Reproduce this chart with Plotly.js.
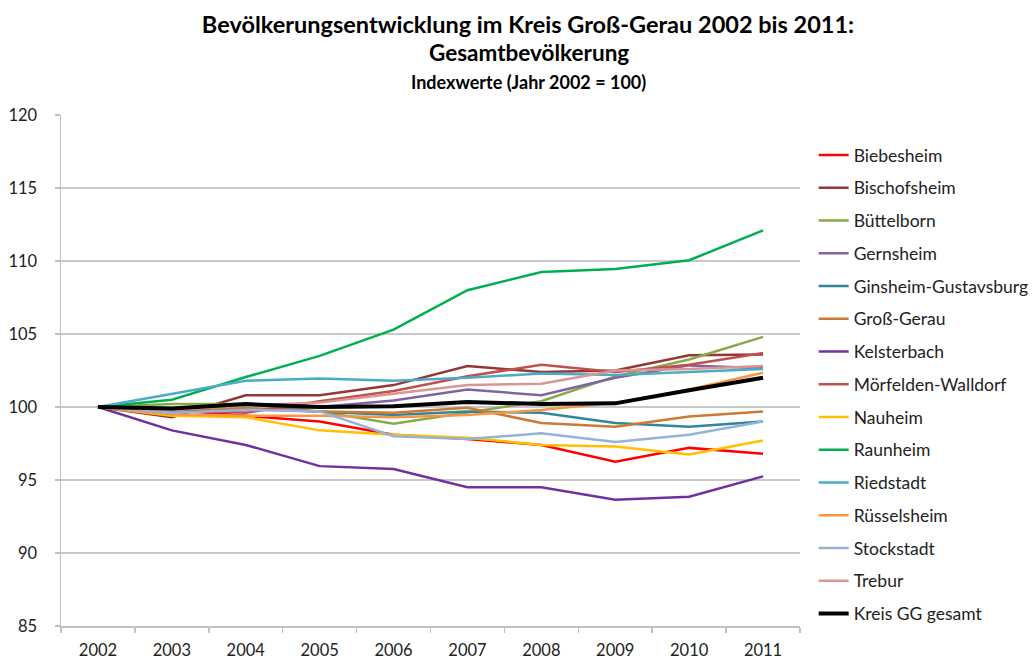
<!DOCTYPE html>
<html>
<head>
<meta charset="utf-8">
<script src="https://cdn.plot.ly/plotly-3.0.1.min.js"></script>
<style>html,body{margin:0;padding:0;background:#fff;}#chart{width:1036px;height:660px;}</style>
</head>
<body>
<div id="chart"></div>
<script>
var years = ['2002','2003','2004','2005','2006','2007','2008','2009','2010','2011'];

var biebesheim    = [100, 99.8, 99.4, 99.0, 98.1, 97.8, 97.4, 96.25, 97.2, 96.8];
var bischofsheim  = [100, 99.3, 100.8, 100.8, 101.5, 102.8, 102.4, 102.5, 103.55, 103.6];
var buettelborn   = [100, 100.2, 100.2, 99.7, 98.85, 99.6, 100.4, 102.1, 103.25, 104.8];
var gernsheim     = [100, 99.7, 99.8, 100.0, 100.45, 101.2, 100.8, 102.0, 102.85, 102.65];
var ginsheim      = [100, 99.8, 99.9, 99.7, 99.45, 99.7, 99.6, 98.9, 98.65, 99.0];
var grossgerau    = [100, 99.9, 99.9, 99.7, 99.6, 99.95, 98.9, 98.65, 99.35, 99.7];
var kelsterbach   = [100, 98.4, 97.4, 95.95, 95.75, 94.5, 94.5, 93.65, 93.85, 95.25];
var moerfelden    = [100, 99.8, 99.6, 100.4, 101.1, 102.1, 102.9, 102.4, 102.9, 103.7];
var nauheim       = [100, 99.4, 99.3, 98.4, 98.1, 97.9, 97.4, 97.3, 96.75, 97.7];
var raunheim      = [100, 100.5, 102.05, 103.5, 105.3, 108.0, 109.25, 109.45, 110.05, 112.1];
var riedstadt     = [100, 100.9, 101.8, 101.95, 101.8, 102.0, 102.3, 102.2, 102.4, 102.6];
var ruesselsheim  = [100, 99.5, 99.4, 99.4, 99.3, 99.45, 99.8, 100.3, 101.2, 102.35];
var stockstadt    = [100, 99.6, 99.8, 99.7, 98.0, 97.8, 98.2, 97.6, 98.1, 99.0];
var trebur        = [100, 99.8, 100.1, 100.3, 100.9, 101.5, 101.6, 102.5, 102.6, 102.8];
var kreis         = [100, 99.9, 100.2, 100.0, 100.05, 100.35, 100.2, 100.25, 101.15, 102.0];

var seriesNames = ['Biebesheim','Bischofsheim','Büttelborn','Gernsheim','Ginsheim-Gustavsburg','Groß-Gerau','Kelsterbach','Mörfelden-Walldorf','Nauheim','Raunheim','Riedstadt','Rüsselsheim','Stockstadt','Trebur','Kreis GG gesamt'];
var seriesValues = [biebesheim, bischofsheim, buettelborn, gernsheim, ginsheim, grossgerau, kelsterbach, moerfelden, nauheim, raunheim, riedstadt, ruesselsheim, stockstadt, trebur, kreis];
var seriesColors = ['#FF0000','#953735','#8AA848','#8064A2','#31859C','#CC7A36','#7030A0','#C0504D','#FFC000','#00B050','#4BACC6','#F79646','#95B3D7','#D99694','#000000'];
var yTicks = [85, 90, 95, 100, 105, 110, 115, 120];

var traces = seriesNames.map(function(n, i){
  return {
    x: years, y: seriesValues[i], name: n, type: 'scatter', mode: 'lines',
    legendgroup: 'g' + i,
    line: {color: seriesColors[i], width: (i === 14 ? 4 : 2.5)}
  };
});

var font = 'Lato, "Noto Sans", sans-serif';
var plotTop = 115, plotH = 511;
function py(pix){ return 1 + (plotTop - pix) / plotH; }

var layout = {
  width: 1036, height: 660,
  margin: {l: 61, r: 236, t: 115, b: 34, autoexpand: false},
  paper_bgcolor: '#fff', plot_bgcolor: '#fff',
  font: {family: font, size: 16, color: '#222'},
  title: {
    text: '<b>Bevölkerungsentwicklung im Kreis Groß-Gerau 2002 bis 2011:</b>',
    font: {family: font, size: 23.5, color: '#000'},
    x: 528/1036, xref: 'container', xanchor: 'center',
    y: 1 - 25/660, yref: 'container', yanchor: 'middle'
  },
  annotations: [{
    text: '<b>Gesamtbevölkerung</b>',
    xref: 'paper', yref: 'paper', x: (529-61)/739, y: py(53),
    xanchor: 'center', yanchor: 'middle', showarrow: false,
    font: {family: font, size: 22.5, color: '#000'}
  },{
    text: '<b>Indexwerte (Jahr 2002 = 100)</b>',
    xref: 'paper', yref: 'paper', x: (528-61)/739, y: py(82),
    xanchor: 'center', yanchor: 'middle', showarrow: false,
    font: {family: font, size: 18, color: '#000'}
  }],
  xaxis: {
    type: 'category', range: [-0.5, 9.5],
    showgrid: false, showline: true, linecolor: '#BFBFBF', linewidth: 1.5,
    ticks: 'outside', tickson: 'boundaries', ticklen: 5, tickcolor: '#BFBFBF', tickwidth: 1.5,
    tickfont: {family: font, size: 16.5, color: '#222'},
    ticklabelstandoff: 9, zeroline: false
  },
  yaxis: {
    range: [85, 120], tickvals: yTicks, ticktext: yTicks.map(String),
    showgrid: true, gridcolor: '#C8C8C8', gridwidth: 1.5,
    showline: true, linecolor: '#BFBFBF', linewidth: 1.5,
    ticks: 'outside', ticklen: 5, tickcolor: '#BFBFBF', tickwidth: 1.5,
    tickfont: {family: font, size: 16.5, color: '#222'},
    ticklabelstandoff: 14, zeroline: false
  },
  legend: {
    x: 1.0185, xanchor: 'left', y: py(137), yanchor: 'top',
    font: {family: font, size: 17.5, color: '#222'},
    tracegroupgap: 7, traceorder: 'grouped', itemwidth: 30,
    maxheight: 1,
    bgcolor: 'rgba(0,0,0,0)'
  },
  showlegend: true
};

Plotly.newPlot('chart', traces, layout, {displayModeBar: false, staticPlot: true});
</script>
</body>
</html>
